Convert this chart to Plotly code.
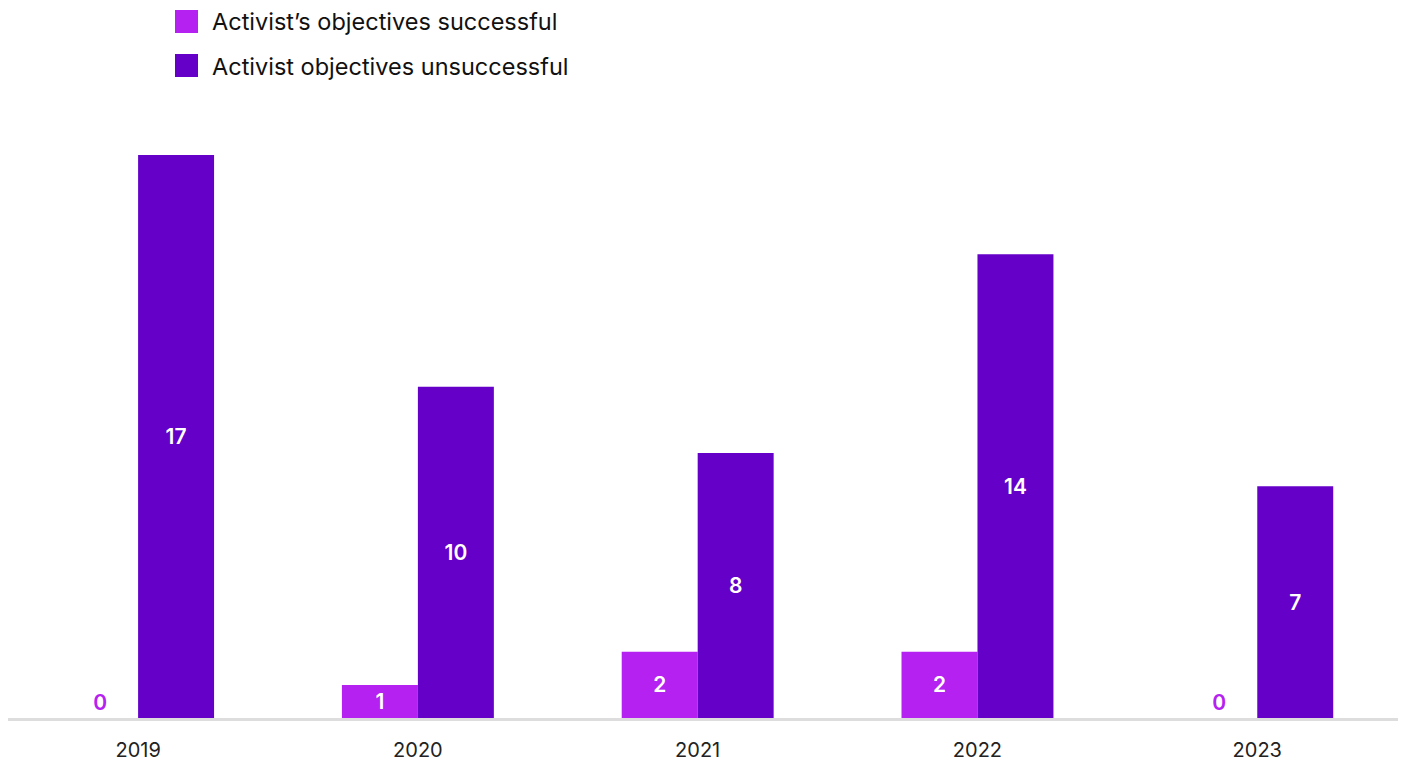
import plotly.graph_objects as go

years = ["2019", "2020", "2021", "2022", "2023"]
successful = [0, 1, 2, 2, 0]
unsuccessful = [17, 10, 8, 14, 7]
series_names = ["Activist\u2019s objectives successful", "Activist objectives unsuccessful"]

C_SUCCESS = "#B521F0"
C_FAIL = "#6400C8"
FONT = "Inter"

def label_positions(vals):
    return ["inside" if v > 0 else "outside" for v in vals]

def label_colors(vals, color):
    return ["#FFFFFF" if v > 0 else color for v in vals]

fig = go.Figure()
for vals, name, col in [(successful, series_names[0], C_SUCCESS),
                        (unsuccessful, series_names[1], C_FAIL)]:
    fig.add_trace(go.Bar(
        x=years, y=vals, name=name, marker=dict(color=col, line=dict(width=0)),
        text=[str(v) for v in vals], textposition=label_positions(vals),
        insidetextanchor="middle", textangle=0, constraintext="none",
        textfont=dict(family=FONT, size=21, color=label_colors(vals, col), weight=600),
        cliponaxis=False, showlegend=False,
    ))

# custom legend with large swatches
PLOT_TOP, PLOT_H, PLOT_L, PLOT_W = 120, 598, 8, 1390
for i, (name, col) in enumerate(zip(series_names, [C_SUCCESS, C_FAIL])):
    y0 = 10 + i * 44
    fig.add_shape(type="rect", xref="paper", yref="paper",
                  x0=(175 - PLOT_L) / PLOT_W, x1=(198 - PLOT_L) / PLOT_W,
                  y0=1 + (PLOT_TOP - y0 - 23) / PLOT_H, y1=1 + (PLOT_TOP - y0) / PLOT_H,
                  fillcolor=col, line_width=0)
    fig.add_annotation(xref="paper", yref="paper", x=(210 - PLOT_L) / PLOT_W,
                       y=1 + (PLOT_TOP - y0 - 12) / PLOT_H, text=name, showarrow=False,
                       xanchor="left", yanchor="middle",
                       font=dict(family=FONT, size=23.5, color="#111111"))

fig.update_layout(
    width=1405, height=763,
    margin=dict(l=8, r=7, t=120, b=45, autoexpand=False),
    paper_bgcolor="white", plot_bgcolor="white",
    barmode="group", bargap=0.457, bargroupgap=0,
    font=dict(family=FONT, color="#222222"),
    xaxis=dict(type="category", range=[-0.465, 4.503], showgrid=False, automargin=False,
               showline=True, linecolor="#DDDDDD", linewidth=3,
               ticks="", tickfont=dict(family=FONT, size=20, color="#222222"),
               ticklabelstandoff=12),
    yaxis=dict(range=[0, 18.057], visible=False, showgrid=False, zeroline=False),
)

fig.write_html("out.html")
